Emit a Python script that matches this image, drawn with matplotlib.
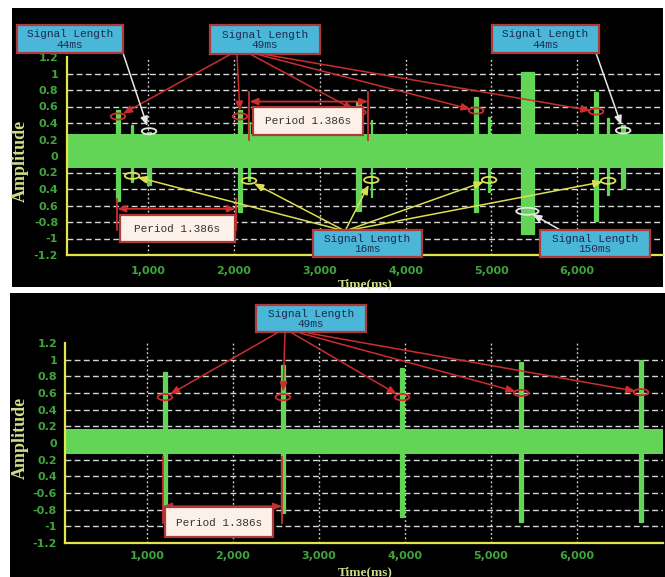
"""
Two oscilloscope-style captures of a periodic pulse train, with the
signal lengths and the 1.386 s period called out on each trace.
"""

import matplotlib
matplotlib.use("Agg")
import matplotlib.pyplot as plt
from matplotlib.patches import Rectangle, Ellipse
import numpy as np

# ---------------------------------------------------------------------------
# Data (time in ms, amplitude in scope units)
# ---------------------------------------------------------------------------
PERIOD_MS = 1386

# upper trace: mixed pulses
TOP_49_T = [650, 2072, 3452, 4823, 6221]
TOP_49_UP = [0.56, 0.56, 0.66, 0.72, 0.78]
TOP_49_DN = [-0.55, -0.68, -0.67, -0.68, -0.79]
TOP_49_MARK = [0.48, 0.48, 0.53, 0.55, 0.54]

TOP_16_T = [814, 2177, 3601, 4974, 6361]
TOP_16_UP = [0.38, 0.41, 0.44, 0.47, 0.46]
TOP_16_DN = [-0.31, -0.30, -0.50, -0.44, -0.47]
TOP_16_MARK = [-0.24, -0.30, -0.29, -0.29, -0.30]

TOP_44_T = [1012, 6536]
TOP_44_UP = [0.29, 0.38]
TOP_44_DN = [-0.35, -0.39]
TOP_44_MARK = [0.30, 0.31]

TOP_150_T = [5420]
TOP_150_UP = [1.02]
TOP_150_DN = [-0.94]
TOP_150_MARK = [-0.67]

TOP_NOISE = (-0.14, 0.27)

# lower trace: 49 ms pulses only
BOT_49_T = [1209, 2581, 3965, 5350, 6745]
BOT_49_UP = [0.85, 0.94, 0.90, 0.97, 1.00]
BOT_49_DN = [-0.80, -0.84, -0.89, -0.95, -0.95]
BOT_49_MARK = [0.55, 0.55, 0.55, 0.60, 0.61]

BOT_NOISE = (-0.13, 0.17)

X_TICKS = [1000, 2000, 3000, 4000, 5000, 6000]
X_TICK_LABELS = ["1,000", "2,000", "3,000", "4,000", "5,000", "6,000"]
Y_TICKS = [1.2, 1.0, 0.8, 0.6, 0.4, 0.2, 0.0, -0.2, -0.4, -0.6, -0.8, -1.0, -1.2]
TOP_Y_LABELS = ["1.2", "1", "0.8", "0.6", "0.4", "0.2", "0",
                "0.2", "0.4", "0.6", "-0.8", "-1", "-1.2"]
BOT_Y_LABELS = ["1.2", "1", "0.8", "0.6", "0.4", "0.2", "0",
                "0.2", "0.4", "-0.6", "-0.8", "-1", "-1.2"]
GRID_Y = [1.0, 0.8, 0.6, 0.4, 0.2, -0.2, -0.4, -0.6, -0.8, -1.0]

# ---------------------------------------------------------------------------
# Style
# ---------------------------------------------------------------------------
W, H = 665, 577
X_LIM = (50, 7000)
GREEN = "#63d556"
TICK_GREEN = "#3fa43c"
AXIS_YELLOW = "#e4e44c"
LABEL_YELLOW = "#cde088"
GRID = "#d6d6d6"
RED = "#cc2e2e"
YELLOW = "#dede52"
WHITE = "#e6e6e6"
CYAN = "#4bb7d8"
BOX_EDGE = "#b03a3a"
CREAM = "#fcf1e9"
MONO = "Liberation Mono"
SERIF = "Liberation Serif"

fig = plt.figure(figsize=(W / 100, H / 100), dpi=100)
fig.patch.set_facecolor("white")

# pixel-space layers: black panels underneath, callouts on top
bg = fig.add_axes([0, 0, 1, 1], zorder=0)
bg.set_xlim(0, W)
bg.set_ylim(H, 0)
bg.axis("off")
bg.add_patch(Rectangle((12, 8), 651, 279, color="black", lw=0))
bg.add_patch(Rectangle((10, 293), 655, 284, color="black", lw=0))


def px_axes(left, right, top, bottom):
    return fig.add_axes([left / W, 1 - bottom / H, (right - left) / W,
                         (bottom - top) / H], zorder=1)


ax_top = px_axes(66.5, 663, 57, 255)
ax_bot = px_axes(65.3, 663, 343, 543)

over = fig.add_axes([0, 0, 1, 1], zorder=2)
over.set_xlim(0, W)
over.set_ylim(H, 0)
over.axis("off")
over.patch.set_alpha(0)


def style_axes(ax, ylabels, noise, xpad):
    ax.set_xlim(X_LIM)
    ax.set_ylim(-1.2, 1.2)
    ax.set_facecolor("black")
    for s in ("top", "right"):
        ax.spines[s].set_visible(False)
    for s in ("left", "bottom"):
        ax.spines[s].set_color(AXIS_YELLOW)
        ax.spines[s].set_linewidth(1.6)
        ax.spines[s].set_zorder(6)
    ax.set_yticks(Y_TICKS)
    ax.set_yticklabels(ylabels)
    ax.set_xticks(X_TICKS)
    ax.set_xticklabels(X_TICK_LABELS)
    ax.tick_params(length=0, labelcolor=TICK_GREEN, labelsize=8)
    ax.tick_params(axis="x", pad=xpad)
    ax.tick_params(axis="y", pad=6)
    for lab in ax.get_xticklabels() + ax.get_yticklabels():
        lab.set_fontweight("bold")
        lab.set_family("DejaVu Sans")
    for y in GRID_Y:
        ax.axhline(y, color=GRID, lw=1.0, ls=(0, (4.2, 2.4)), zorder=1)
    for x in X_TICKS:
        ax.axvline(x, color=GRID, lw=1.0, ls=(0, (1.3, 1.8)), zorder=1)
    ax.axhspan(noise[0], noise[1], color=GREEN, lw=0, zorder=2)


def pulses(ax, t, up, dn, width):
    ax.bar(t, np.subtract(up, dn), bottom=dn, width=width, color=GREEN,
           edgecolor=GREEN, lw=0.9, zorder=3)


def rings(ax, t, level, color, w=170, h=0.075):
    for x, y in zip(t, level):
        ax.add_patch(Ellipse((x, y), w, h, fill=False, edgecolor=color,
                             lw=1.3, zorder=5))


def label_box(x0, y0, x1, y1, text, fill, color):
    over.add_patch(Rectangle((x0, y0), x1 - x0, y1 - y0, facecolor=fill,
                             edgecolor=BOX_EDGE, lw=1.6, zorder=10))
    over.text((x0 + x1) / 2, (y0 + y1) / 2 + 0.5, text, ha="center",
              va="center", family=MONO, fontsize=8, color=color,
              linespacing=1.05, zorder=11)


def pointer(src, ax, xy, color, lw=1.1):
    over.annotate("", xy=xy, xycoords=ax.transData, xytext=src,
                  textcoords="data", zorder=8,
                  arrowprops=dict(arrowstyle="-|>,head_length=0.55,head_width=0.22",
                                  color=color, lw=lw, shrinkA=0, shrinkB=4))


def period_bracket(ax, start, lo, hi, y_arrow):
    for x in (start, start + PERIOD_MS):
        ax.plot([x, x], [lo, hi], color=RED, lw=1.3, zorder=6, clip_on=False)
    ax.annotate("", xy=(start + PERIOD_MS, y_arrow), xytext=(start, y_arrow),
                arrowprops=dict(arrowstyle="<|-|>,head_length=0.5,head_width=0.2",
                                color=RED, lw=1.3, shrinkA=0, shrinkB=0),
                zorder=6, annotation_clip=False)


# ---------------------------------------------------------------------------
# Upper trace
# ---------------------------------------------------------------------------
style_axes(ax_top, TOP_Y_LABELS, TOP_NOISE, xpad=8)
pulses(ax_top, TOP_49_T, TOP_49_UP, TOP_49_DN, 49)
pulses(ax_top, TOP_16_T, TOP_16_UP, TOP_16_DN, 16)
pulses(ax_top, TOP_44_T, TOP_44_UP, TOP_44_DN, 44)
pulses(ax_top, TOP_150_T, TOP_150_UP, TOP_150_DN, 150)
rings(ax_top, TOP_49_T, TOP_49_MARK, RED)
rings(ax_top, TOP_16_T, TOP_16_MARK, YELLOW)
rings(ax_top, TOP_44_T, TOP_44_MARK, WHITE)
rings(ax_top, TOP_150_T, TOP_150_MARK, WHITE, w=260, h=0.085)

period_bracket(ax_top, 639, -0.52, -0.90, -0.64)
period_bracket(ax_top, 2180, 0.20, 0.77, 0.66)

label_box(17, 25, 123, 53, "Signal Length\n44ms", CYAN, "#1d2a52")
label_box(210, 25, 320, 54, "Signal Length\n49ms", CYAN, "#1d2a52")
label_box(492, 25, 599, 53, "Signal Length\n44ms", CYAN, "#1d2a52")
label_box(313, 230, 422, 257, "Signal Length\n16ms", CYAN, "#1d2a52")
label_box(540, 230, 650, 257, "Signal Length\n150ms", CYAN, "#1d2a52")
label_box(253, 107, 363, 135, "Period 1.386s", CREAM, "#333333")
label_box(120, 215, 235, 242, "Period 1.386s", CREAM, "#333333")

for src, t, m in zip([(231, 54), (237, 54), (250, 54), (256, 54), (262, 54)],
                     TOP_49_T, TOP_49_MARK):
    pointer(src, ax_top, (t, m), RED)
for t, m in zip(TOP_16_T, TOP_16_MARK):
    pointer((345, 231), ax_top, (t, m), YELLOW)
pointer((123, 53), ax_top, (TOP_44_T[0], TOP_44_MARK[0]), WHITE)
pointer((596, 53), ax_top, (TOP_44_T[1], TOP_44_MARK[1]), WHITE)
pointer((562, 231), ax_top, (TOP_150_T[0], TOP_150_MARK[0]), WHITE)

# ---------------------------------------------------------------------------
# Lower trace
# ---------------------------------------------------------------------------
style_axes(ax_bot, BOT_Y_LABELS, BOT_NOISE, xpad=6)
pulses(ax_bot, BOT_49_T, BOT_49_UP, BOT_49_DN, 49)
rings(ax_bot, BOT_49_T, BOT_49_MARK, RED)
period_bracket(ax_bot, 1186, -0.17, -0.96, -0.76)

label_box(256, 305, 366, 332, "Signal Length\n49ms", CYAN, "#1d2a52")
label_box(165, 507, 273, 537, "Period 1.386s", CREAM, "#333333")

for src, t, m in zip([(277, 333), (285, 333), (292, 333), (300, 333), (308, 333)],
                     BOT_49_T, BOT_49_MARK):
    pointer(src, ax_bot, (t, m), RED)

# axis titles
for y in (161, 438):
    over.text(20, y, "Amplitude", rotation=90, ha="center", va="center",
              family=SERIF, fontweight="bold", fontsize=13, color=LABEL_YELLOW)
for y in (284, 572):
    over.text(365, y, "Time(ms)", ha="center", va="center", family=SERIF,
              fontweight="bold", fontsize=9.5, color=LABEL_YELLOW)

fig.savefig("out.png", dpi=100, facecolor="white")
plt.close(fig)
